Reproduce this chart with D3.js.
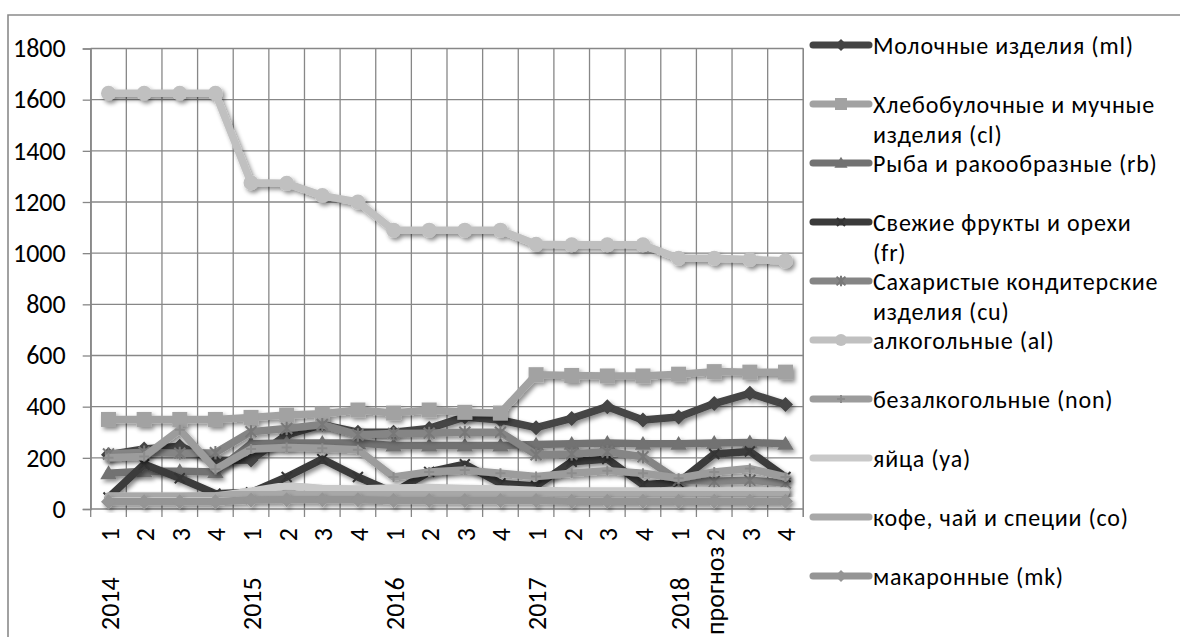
<!DOCTYPE html>
<html>
<head>
<meta charset="utf-8">
<script src="https://cdn.jsdelivr.net/npm/d3@7"></script>
<style>
  html, body { margin: 0; padding: 0; background: #fff; }
  svg text { font-family: Carlito, "Open Sans", "Noto Sans", sans-serif; fill: #000; }
</style>
</head>
<body>
<svg id="chart" width="1180" height="637"></svg>
<script>
// Quarter labels along the category axis and the second-level group labels
const quarters = ["1","2","3","4","1","2","3","4","1","2","3","4","1","2","3","4","1","2","3","4"];
const groupLabels = ["2014", "2015", "2016", "2017", "2018", "прогноз"];
const groupStarts = [0, 4, 8, 12, 16, 17];
const yTicks = [0, 200, 400, 600, 800, 1000, 1200, 1400, 1600, 1800];

// Series values, one entry per quarter
const ml  = [212, 235, 245, 190, 192, 290, 330, 300, 300, 315, 360, 348, 318, 354, 400, 348, 360, 412, 452, 408];
const cl  = [350, 350, 350, 350, 358, 367, 372, 387, 375, 387, 378, 375, 525, 522, 520, 520, 527, 537, 535, 535];
const rb  = [140, 148, 148, 145, 255, 258, 258, 258, 248, 248, 248, 248, 252, 255, 258, 255, 255, 258, 260, 255];
const fr  = [45, 175, 120, 60, 65, 125, 195, 125, 65, 145, 175, 100, 90, 185, 195, 95, 105, 215, 225, 125];
const cu  = [215, 222, 218, 220, 302, 315, 330, 290, 295, 296, 300, 300, 212, 215, 224, 204, 112, 108, 112, 102];
const al  = [1625, 1625, 1625, 1625, 1275, 1273, 1225, 1200, 1090, 1090, 1090, 1090, 1035, 1033, 1033, 1033, 980, 980, 975, 970];
const non = [200, 205, 310, 155, 235, 240, 237, 232, 125, 145, 152, 140, 127, 140, 150, 140, 120, 145, 158, 125];
const ya  = [50, 50, 50, 50, 70, 92, 80, 78, 82, 84, 80, 78, 72, 70, 70, 70, 70, 70, 70, 70];
const co  = [50, 50, 50, 52, 60, 62, 62, 62, 62, 62, 62, 62, 62, 63, 63, 63, 63, 64, 64, 64];
const mk  = [28, 28, 28, 28, 35, 36, 36, 36, 33, 33, 33, 33, 33, 30, 30, 30, 30, 30, 30, 30];

// Legend labels, already split into the lines they occupy
const seriesNames = [
  ["Молочные изделия (ml)"],
  ["Хлебобулочные и мучные", "изделия (cl)"],
  ["Рыба и ракообразные (rb)"],
  ["Свежие фрукты и орехи", "(fr)"],
  ["Сахаристые кондитерские", "изделия (cu)"],
  ["алкогольные (al)"],
  ["безалкогольные (non)"],
  ["яйца (ya)"],
  ["кофе, чай и специи (co)"],
  ["макаронные (mk)"]
];
const seriesValues = [ml, cl, rb, fr, cu, al, non, ya, co, mk];
const seriesColors = ["#444444", "#a2a2a2", "#727272", "#3a3a3a", "#858585", "#c0c0c0", "#9c9c9c", "#c9c9c9", "#a8a8a8", "#959595"];
const seriesMarkers = ["diamond", "square", "triangle", "x", "star", "circle", "plus", "none", "none", "diamond"];

const series = seriesNames.map((lines, i) => ({
  lines, values: seriesValues[i], color: seriesColors[i], marker: seriesMarkers[i]
}));

const svg = d3.select("#chart");
const W = 1180, H = 637;
const plot = { left: 90.7, right: 803.3, top: 48.5, bottom: 509 };
const fontSize = "26px";
const legendFontSize = "24px";

const x = d3.scaleBand().domain(d3.range(quarters.length)).range([plot.left, plot.right]).padding(0);
const y = d3.scaleLinear().domain([0, 1800]).range([plot.bottom, plot.top]);
const cx = i => x(i) + x.bandwidth() / 2;

// soft drop shadow under lines and markers
const defs = svg.append("defs");
const f = defs.append("filter").attr("id", "shadow")
  .attr("x", "-20%").attr("y", "-20%").attr("width", "140%").attr("height", "140%");
f.append("feDropShadow").attr("dx", 2.4).attr("dy", 2.8).attr("stdDeviation", 1.9)
  .attr("flood-color", "#000").attr("flood-opacity", 0.45);

// outer chart frame
svg.append("path")
  .attr("d", `M8,${H + 5} L8,15 L${W + 5},15`)
  .attr("fill", "none").attr("stroke", "#8a8a8a").attr("stroke-width", 1.6);

const gridColor = "#878787";
const grid = svg.append("g");
// horizontal gridlines
grid.selectAll("line.h").data(yTicks).join("line")
  .attr("x1", plot.left).attr("x2", plot.right)
  .attr("y1", d => y(d)).attr("y2", d => y(d))
  .attr("stroke", gridColor).attr("stroke-width", 1.3);
// vertical gridlines on category boundaries
const bounds = d3.range(quarters.length + 1).map(i => i < quarters.length ? x(i) : x(i - 1) + x.bandwidth());
grid.selectAll("line.v").data(bounds).join("line")
  .attr("x1", d => d).attr("x2", d => d)
  .attr("y1", plot.top).attr("y2", plot.bottom + 8)
  .attr("stroke", gridColor).attr("stroke-width", 1.3);

// value axis
const yAxis = svg.append("g").attr("transform", `translate(${plot.left},0)`)
  .call(d3.axisLeft(y).tickValues(yTicks).tickSize(8).tickPadding(17).tickFormat(d3.format("d")));
yAxis.select(".domain").attr("stroke", gridColor).attr("stroke-width", 1.3);
yAxis.selectAll(".tick line").attr("stroke", gridColor).attr("stroke-width", 1.3);
yAxis.selectAll(".tick text").style("font-size", fontSize).attr("fill", "#000");

// category axis labels: quarters, then years
const xl = svg.append("g");
xl.selectAll("text.q").data(quarters).join("text")
  .attr("transform", (d, i) => `translate(${cx(i) + 1},528) rotate(-90)`)
  .attr("text-anchor", "end").attr("dominant-baseline", "central")
  .style("font-size", fontSize).text(d => d);
xl.selectAll("text.g").data(groupLabels).join("text")
  .attr("transform", (d, i) => `translate(${cx(groupStarts[i]) + 1},${i === groupLabels.length - 1 ? 635 : 630}) rotate(-90)`)
  .attr("text-anchor", "start").attr("dominant-baseline", "central")
  .style("font-size", fontSize).text(d => d);

// marker shapes
function markerPath(type, r) {
  switch (type) {
    case "diamond": return `M0,${-r}L${r},0L0,${r}L${-r},0Z`;
    case "square": return `M${-r},${-r}H${r}V${r}H${-r}Z`;
    case "triangle": return `M0,${-r * 1.05}L${r * 1.1},${r * 0.8}L${-r * 1.1},${r * 0.8}Z`;
    case "circle": return d3.arc()({ innerRadius: 0, outerRadius: r, startAngle: 0, endAngle: 2 * Math.PI });
    case "x": return `M${-r},${-r}L${r},${r}M${r},${-r}L${-r},${r}`;
    case "star": return `M${-r},${-r}L${r},${r}M${r},${-r}L${-r},${r}M0,${-r * 1.2}L0,${r * 1.2}`;
    case "plus": return `M${-r},0H${r}M0,${-r}V${r}`;
  }
  return null;
}
const markerSize = { diamond: 7.5, square: 7.5, triangle: 7.5, circle: 7.5, x: 5, star: 5.5, plus: 5 };
const strokeMarker = t => t === "x" || t === "star" || t === "plus";

function drawMarker(g, s, px, py, scale) {
  if (s.marker === "none") return;
  const r = markerSize[s.marker] * scale;
  const p = g.append("path").attr("d", markerPath(s.marker, r))
    .attr("transform", `translate(${px},${py})`);
  if (strokeMarker(s.marker)) {
    p.attr("fill", "none").attr("stroke", d3.color(s.color).darker(0.3)).attr("stroke-width", 2);
  } else {
    p.attr("fill", s.color).attr("stroke", "none");
  }
}

// series lines with markers
const line = d3.line().x((d, i) => cx(i)).y(d => y(d)).curve(d3.curveLinear);
const marks = svg.append("g");
series.forEach(s => {
  const g = marks.append("g").attr("filter", "url(#shadow)");
  g.append("path").attr("d", line(s.values))
    .attr("fill", "none").attr("stroke", s.color).attr("stroke-width", 7.5)
    .attr("stroke-linejoin", "round").attr("stroke-linecap", "round");
  s.values.forEach((v, i) => drawMarker(g, s, cx(i), y(v), 1));
});

// plot area right edge
svg.append("line").attr("x1", plot.right).attr("x2", plot.right)
  .attr("y1", plot.top).attr("y2", plot.bottom + 8)
  .attr("stroke", gridColor).attr("stroke-width", 1.3);

// legend
const legend = svg.append("g");
const legX0 = 813, legX1 = 869, textX = 873, rowStep = 59, row0 = 45, lineGap = 29.5;
series.forEach((s, i) => {
  const yy = row0 + i * rowStep;
  const g = legend.append("g");
  g.append("line").attr("x1", legX0).attr("x2", legX1).attr("y1", yy).attr("y2", yy)
    .attr("stroke", s.color).attr("stroke-width", 7).attr("stroke-linecap", "round");
  drawMarker(g, s, (legX0 + legX1) / 2, yy, 0.8);
  const t = g.append("text").attr("x", textX).attr("y", yy)
    .attr("dominant-baseline", "central").style("font-size", legendFontSize)
    .style("letter-spacing", "0.8px");
  t.selectAll("tspan").data(s.lines).join("tspan")
    .attr("x", textX).attr("dy", (d, k) => k === 0 ? 0 : lineGap).text(d => d);
});
</script>
</body>
</html>
